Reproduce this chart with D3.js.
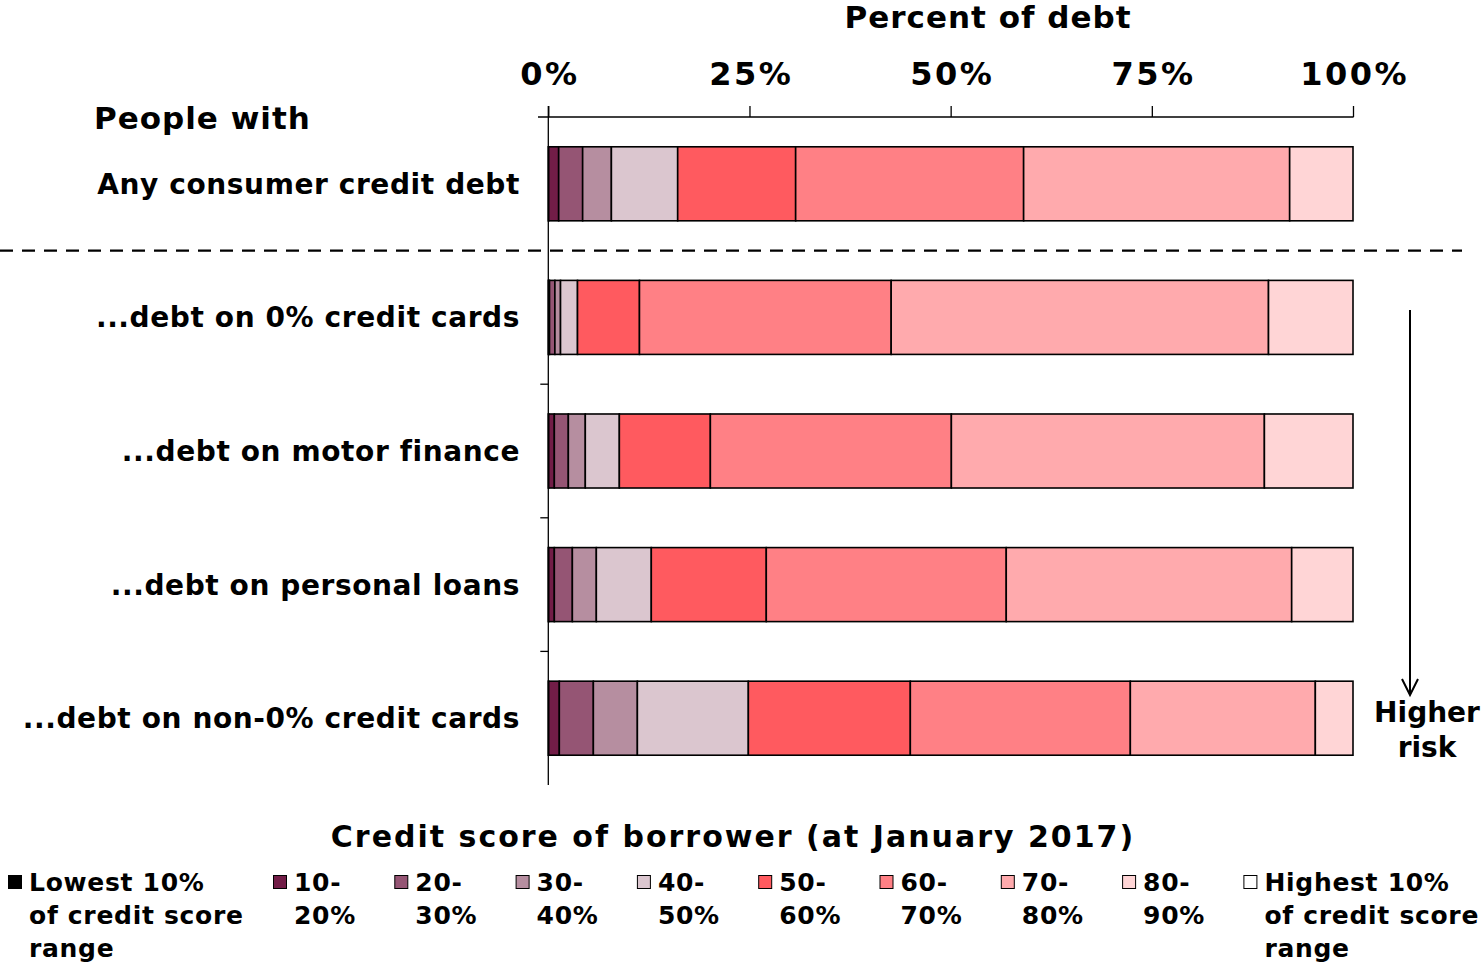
<!DOCTYPE html>
<html>
<head>
<meta charset="utf-8">
<script src="https://cdn.jsdelivr.net/npm/d3@7"></script>
<style>
  body { margin: 0; background: #fff; }
  svg text { font-family: "DejaVu Sans", Verdana, sans-serif; font-weight: bold; fill: #000; }
</style>
</head>
<body>
<svg id="chart" width="1483" height="962"></svg>
<script>
// categories, top to bottom
const categories = [
  "Any consumer credit debt",
  "...debt on 0% credit cards",
  "...debt on motor finance",
  "...debt on personal loans",
  "...debt on non-0% credit cards"
];

// credit score bands (series), lowest to highest
const bands = ["lowest", "b10", "b20", "b30", "b40", "b50", "b60", "b70", "b80", "highest"];

const bandColors = ["#000000", "#721d47", "#955574", "#b68ea0", "#dbc6cf",
  "#ff5a5f", "#ff8085", "#ffaaad", "#ffd5d6", "#ffffff"];

// legend labels, one array of lines per band
const legendLabels = [
  ["Lowest 10%", "of credit score", "range"],
  ["10-", "20%"], ["20-", "30%"], ["30-", "40%"], ["40-", "50%"],
  ["50-", "60%"], ["60-", "70%"], ["70-", "80%"], ["80-", "90%"],
  ["Highest 10%", "of credit score", "range"]
];

// percent of debt in each band, one array per category
const anyDebt      = [0.05, 1.24, 2.98, 3.57, 8.24, 14.66, 28.33, 33.06, 7.87, 0];
const zeroCards    = [0.05, 0.10, 0.67, 0.70, 2.11, 7.70, 31.28, 46.89, 10.50, 0];
const motorFinance = [0.05, 0.70, 1.74, 2.11, 4.23, 11.31, 29.95, 38.90, 11.01, 0];
const personalLoan = [0.05, 0.70, 2.24, 2.98, 6.83, 14.29, 29.82, 35.47, 7.62, 0];
const nonZeroCards = [0.05, 1.32, 4.23, 5.47, 13.79, 20.13, 27.34, 22.99, 4.68, 0];

const seriesValues = [anyDebt, zeroCards, motorFinance, personalLoan, nonZeroCards];

const axisTicks = [0, 25, 50, 75, 100];

const svg = d3.select("#chart");

// build table for the stack
const table = categories.map((c, i) => {
  const row = { category: c };
  bands.forEach((b, j) => (row[b] = seriesValues[i][j]));
  return row;
});

const x = d3.scaleLinear().domain([0, 100]).range([548.3, 1353]);
const y = d3.scaleBand().domain(categories).range([117, 785])
  .paddingInner(0.446).paddingOuter(0.223);
const color = d3.scaleOrdinal().domain(bands).range(bandColors);

const stacked = d3.stack().keys(bands)(table);

// bars
svg.append("g").attr("id", "barsGroup")
  .selectAll("g")
  .data(stacked)
  .join("g")
  .attr("fill", (d) => color(d.key))
  .selectAll("rect")
  .data((d) => d)
  .join("rect")
  .attr("x", (d) => x(d[0]))
  .attr("y", (d) => y(d.data.category))
  .attr("width", (d) => Math.max(0, x(d[1]) - x(d[0])))
  .attr("height", y.bandwidth())
  .attr("stroke", "#000")
  .attr("stroke-width", 1.6);

// top axis
const xAxis = svg.append("g")
  .attr("transform", "translate(0,117)")
  .call(d3.axisTop(x).tickValues(axisTicks).tickFormat((d) => d + "%")
    .tickSize(11).tickSizeOuter(0).tickPadding(21));
xAxis.select(".domain").remove();
xAxis.selectAll("line").attr("stroke", "#000").attr("stroke-width", 1.3);
xAxis.selectAll("text")
  .style("font-size", "32px")
  .style("letter-spacing", "2.5px")
  .attr("dx", 1.2)
  .attr("font-family", null);
svg.append("line")
  .attr("x1", 538).attr("x2", x(100) + 0.6)
  .attr("y1", 117).attr("y2", 117)
  .attr("stroke", "#000").attr("stroke-width", 1.3);

// left axis
const y0 = y.range()[0], y1 = y.range()[1];
svg.append("line")
  .attr("x1", x(0)).attr("x2", x(0))
  .attr("y1", 106).attr("y2", y1)
  .attr("stroke", "#000").attr("stroke-width", 1.3);
svg.append("g").selectAll("line")
  .data(d3.range(2, categories.length))
  .join("line")
  .attr("x1", x(0) - 8).attr("x2", x(0))
  .attr("y1", (k) => y0 + k * y.step())
  .attr("y2", (k) => y0 + k * y.step())
  .attr("stroke", "#000").attr("stroke-width", 1.3);

// category labels
svg.append("g").selectAll("text")
  .data(categories)
  .join("text")
  .attr("x", 520)
  .attr("y", (d) => y(d) + y.bandwidth() / 2)
  .attr("dy", "0.36em")
  .attr("text-anchor", "end")
  .style("font-size", "28px")
  .style("letter-spacing", "0.6px")
  .text((d) => d);

svg.append("text")
  .attr("x", 94).attr("y", 129)
  .style("font-size", "31px")
  .style("letter-spacing", "1px")
  .text("People with");

svg.append("text")
  .attr("x", 988).attr("y", 28)
  .attr("text-anchor", "middle")
  .style("font-size", "31px")
  .style("letter-spacing", "1px")
  .text("Percent of debt");

// dashed separator
svg.append("line")
  .attr("x1", 0).attr("x2", 1462)
  .attr("y1", y0 + y.step()).attr("y2", y0 + y.step())
  .attr("stroke", "#000").attr("stroke-width", 2.4)
  .attr("stroke-dasharray", "13,9");

// higher risk arrow
const arrowX = 1410;
svg.append("line")
  .attr("x1", arrowX).attr("x2", arrowX)
  .attr("y1", 310).attr("y2", 694)
  .attr("stroke", "#000").attr("stroke-width", 2);
svg.append("path")
  .attr("d", `M${arrowX - 8},679 L${arrowX},695 L${arrowX + 8},679`)
  .attr("fill", "none").attr("stroke", "#000").attr("stroke-width", 2);
svg.append("text")
  .attr("x", 1427).attr("y", 722)
  .attr("text-anchor", "middle")
  .style("font-size", "28px")
  .selectAll("tspan")
  .data(["Higher", "risk"])
  .join("tspan")
  .attr("x", 1427)
  .attr("dy", (d, i) => (i ? "1.25em" : 0))
  .text((d) => d);

// legend
svg.append("text")
  .attr("x", 733).attr("y", 847)
  .attr("text-anchor", "middle")
  .style("font-size", "30px")
  .style("letter-spacing", "2px")
  .text("Credit score of borrower (at January 2017)");

const legendX = (i) => (i === 0 ? 8 : 273 + (i - 1) * 121.3);
const legend = svg.append("g").selectAll("g")
  .data(bands)
  .join("g")
  .attr("transform", (d, i) => `translate(${legendX(i)},0)`);

legend.append("rect")
  .attr("x", 0.5).attr("y", 875.5)
  .attr("width", 13).attr("height", 13)
  .attr("fill", (d) => color(d))
  .attr("stroke", "#000").attr("stroke-width", 1);

legend.append("text")
  .style("font-size", "25px")
  .style("letter-spacing", "0.7px")
  .selectAll("tspan")
  .data((d, i) => legendLabels[i])
  .join("tspan")
  .attr("x", 21)
  .attr("y", (d, i) => 891 + i * 33)
  .text((d) => d);
</script>
</body>
</html>
